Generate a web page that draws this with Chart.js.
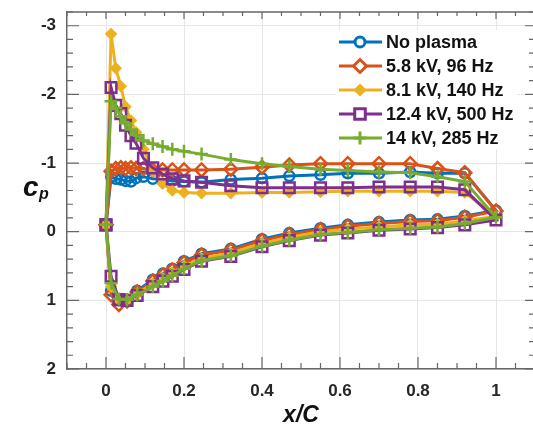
<!DOCTYPE html>
<html>
<head>
<meta charset="utf-8">
<script src="https://cdn.jsdelivr.net/npm/chart.js@4/dist/chart.umd.min.js"></script>
<style>
html,body{margin:0;padding:0;overflow:hidden;background:#fff}
#caja{width:548px;height:434px}
</style>
</head>
<body>
<div id="caja"><canvas id="cp" width="548" height="434"></canvas></div>
<script>
// posiciones de las tomas (extrados con borde de ataque y de fuga, intrados sin ellos)
var xSup = [0, 0.013, 0.025, 0.038, 0.05, 0.064, 0.077, 0.096, 0.12, 0.145, 0.17, 0.2, 0.245, 0.32, 0.4, 0.47, 0.55, 0.62, 0.70, 0.78, 0.85, 0.92, 1.0];
var xInf = [0.013, 0.033, 0.054, 0.08, 0.12, 0.146, 0.17, 0.2, 0.245, 0.32, 0.4, 0.47, 0.55, 0.62, 0.70, 0.78, 0.85, 0.92];

var etiquetas = ['No plasma', '5.8 kV, 96 Hz', '8.1 kV, 140 Hz', '12.4 kV, 500 Hz', '14 kV, 285 Hz'];
var colores = ['#0072BD', '#D95319', '#EDB120', '#7E2F8E', '#77AC30'];
var marcadores = ['circle', 'rectRot', 'rectRot', 'rect', 'cross'];

var ticksX = [0, 0.2, 0.4, 0.6, 0.8, 1];
var ticksY = [-3, -2, -1, 0, 1, 2];

// Cp extrados
var supSinPlasma = [-0.1, -0.8, -0.77, -0.76, -0.74, -0.73, -0.78, -0.8, -0.77, -0.76, -0.74, -0.73, -0.72, -0.76, -0.78, -0.81, -0.83, -0.85, -0.85, -0.87, -0.85, -0.85, -0.31];
var sup58 = [-0.1, -0.88, -0.92, -0.93, -0.92, -0.93, -0.92, -0.92, -0.9, -0.9, -0.9, -0.9, -0.9, -0.91, -0.94, -0.97, -0.99, -0.99, -0.99, -0.99, -0.92, -0.86, -0.3];
var sup81 = [-0.1, -2.88, -2.38, -2.12, -1.82, -1.62, -1.45, -1.2, -0.88, -0.7, -0.6, -0.57, -0.56, -0.56, -0.57, -0.57, -0.58, -0.59, -0.59, -0.59, -0.59, -0.57, -0.22];
var sup124 = [-0.1, -2.1, -1.84, -1.72, -1.55, -1.4, -1.29, -1.07, -0.93, -0.84, -0.77, -0.74, -0.72, -0.67, -0.64, -0.64, -0.64, -0.64, -0.65, -0.65, -0.65, -0.61, -0.17];
var sup14 = [-0.1, -1.9, -1.8, -1.68, -1.58, -1.49, -1.41, -1.33, -1.28, -1.24, -1.2, -1.17, -1.13, -1.05, -0.99, -0.95, -0.91, -0.89, -0.87, -0.86, -0.8, -0.73, -0.21];

// Cp intrados
var infSinPlasma = [0.86, 1.0, 0.99, 0.86, 0.70, 0.61, 0.54, 0.43, 0.32, 0.25, 0.11, 0.02, -0.05, -0.1, -0.14, -0.17, -0.18, -0.23];
var inf58 = [0.92, 1.06, 1.01, 0.88, 0.72, 0.63, 0.56, 0.45, 0.34, 0.27, 0.13, 0.04, -0.03, -0.08, -0.12, -0.15, -0.16, -0.21];
var inf81 = [0.8, 1.0, 1.0, 0.9, 0.76, 0.68, 0.6, 0.5, 0.39, 0.31, 0.17, 0.08, 0.0, -0.04, -0.07, -0.1, -0.11, -0.16];
var inf124 = [0.65, 0.99, 1.0, 0.93, 0.8, 0.72, 0.65, 0.55, 0.43, 0.36, 0.22, 0.13, 0.05, 0.02, -0.02, -0.04, -0.06, -0.1];
var inf14 = [0.75, 0.98, 0.99, 0.92, 0.8, 0.72, 0.64, 0.54, 0.42, 0.35, 0.21, 0.12, 0.04, 0.01, -0.03, -0.05, -0.07, -0.12];

var supTodos = [supSinPlasma, sup58, sup81, sup124, sup14];
var infTodos = [infSinPlasma, inf58, inf81, inf124, inf14];

function contorno(sup, inf){
  var pts = [];
  for (var i = 0; i < xSup.length; i++) pts.push({x: xSup[i], y: sup[i]});
  for (var j = xInf.length - 1; j >= 0; j--) pts.push({x: xInf[j], y: inf[j]});
  pts.push({x: xSup[0], y: sup[0]});
  return pts;
}

function radioMarcador(k){
  if (k == 2) return 4.5;
  if (marcadores[k] == 'rect') return 7.5;
  if (marcadores[k] == 'rectRot') return 6.5;
  if (marcadores[k] == 'cross') return 6.5;
  return 5;
}

var datasets = [];
for (var k = 0; k < etiquetas.length; k++) {
  datasets.push({
    label: etiquetas[k],
    data: contorno(supTodos[k], infTodos[k]),
    showLine: true,
    borderColor: colores[k],
    borderWidth: 3,
    pointStyle: marcadores[k],
    pointRadius: radioMarcador(k),
    pointBorderWidth: 2.5,
    pointBorderColor: colores[k],
    pointBackgroundColor: k == 2 ? colores[k] : 'rgba(255,255,255,0)',
    tension: 0,
    order: etiquetas.length - k
  });
}

var fuenteTicks = {family: 'Liberation Sans, Arial, sans-serif', size: 17, weight: 'bold'};

function marcador(ctx, k, x, y){
  Chart.helpers.drawPoint(ctx, {
    pointStyle: marcadores[k],
    radius: radioMarcador(k),
    borderWidth: 2.5,
    rotation: 0
  }, x, y);
}

var extras = {
  id: 'extras',
  afterDraw: function(chart){
    var ctx = chart.ctx;
    var a = chart.chartArea;
    var sx = chart.scales.x, sy = chart.scales.y;
    ctx.save();
    // borde superior
    ctx.strokeStyle = '#666';
    ctx.lineWidth = 1.5;
    ctx.beginPath();
    ctx.moveTo(a.left, a.top); ctx.lineTo(a.right, a.top);
    ctx.moveTo(a.right, a.top); ctx.lineTo(a.right, a.bottom);
    ctx.stroke();
    // marcas hacia dentro
    ctx.lineWidth = 1.2;
    ctx.beginPath();
    for (var i = -2; i <= 22; i++) {
      var v = i * 0.05;
      var px = sx.getPixelForValue(v);
      var mayor = (i % 4 == 0);
      ctx.moveTo(px, a.bottom); ctx.lineTo(px, a.bottom - (mayor ? 12 : 6));
      ctx.moveTo(px, a.top); ctx.lineTo(px, a.top + (mayor ? 7 : 4));
    }
    for (var j = -16; j <= 10; j++) {
      var w = j * 0.2;
      var py = sy.getPixelForValue(w);
      var may = (j % 5 == 0);
      ctx.moveTo(a.left, py); ctx.lineTo(a.left + (may ? 12 : 6), py);
      ctx.moveTo(a.right, py); ctx.lineTo(a.right - (may ? 10 : 6), py);
    }
    ctx.stroke();

    // leyenda
    ctx.fillStyle = '#fff';
    ctx.fillRect(336, 30, 181, 120);
    for (var k = 0; k < etiquetas.length; k++) {
      var yy = 42 + k * 24;
      ctx.strokeStyle = colores[k];
      ctx.lineWidth = 3;
      ctx.beginPath(); ctx.moveTo(339, yy); ctx.lineTo(382, yy); ctx.stroke();
      ctx.fillStyle = k == 2 ? colores[k] : '#fff';
      marcador(ctx, k, 360, yy);
      ctx.fillStyle = '#111';
      ctx.font = 'bold 18px Liberation Sans, Arial, sans-serif';
      ctx.textBaseline = 'middle';
      ctx.textAlign = 'left';
      ctx.fillText(etiquetas[k], 386, yy + 1);
    }

    // titulo eje y: c sub p
    ctx.fillStyle = '#111';
    ctx.textBaseline = 'alphabetic';
    ctx.font = 'italic bold 28px Liberation Sans, Arial, sans-serif';
    ctx.fillText('c', 23, 196);
    ctx.font = 'italic bold 16px Liberation Sans, Arial, sans-serif';
    ctx.fillText('p', 39, 199);
    ctx.restore();
  }
};

new Chart(document.getElementById('cp'), {
  type: 'scatter',
  data: {datasets: datasets},
  options: {
    responsive: false,
    animation: false,
    layout: {padding: {top: 12, right: 13, left: 0, bottom: 0}},
    plugins: {legend: {display: false}, tooltip: {enabled: false}},
    scales: {
      x: {
        type: 'linear', min: -0.1, max: 1.1,
        afterBuildTicks: function(s){ s.ticks = ticksX.map(function(v){ return {value: v}; }); },
        afterFit: function(s){ s.height = 65; s.paddingLeft = 0; s.paddingRight = 0; },
        ticks: {font: fuenteTicks, color: '#262626', padding: 12, maxRotation: 0,
          callback: function(v){ return String(v); }},
        grid: {color: '#e6e6e6', lineWidth: 1, drawTicks: false},
        border: {display: true, color: '#666', width: 1.5},
        title: {display: true, text: 'x/C', color: '#111',
          font: {family: 'Liberation Sans, Arial, sans-serif', size: 23, weight: 'bold', style: 'italic'},
          padding: {top: 0, bottom: 5}}
      },
      y: {
        type: 'linear', reverse: true, min: -3.2, max: 2,
        afterBuildTicks: function(s){ s.ticks = ticksY.map(function(v){ return {value: v}; }); },
        afterFit: function(s){ s.width = 67; s.paddingTop = 0; s.paddingBottom = 0; },
        ticks: {font: fuenteTicks, color: '#262626', padding: 11,
          callback: function(v){ return String(v); }},
        grid: {color: '#e6e6e6', lineWidth: 1, drawTicks: false},
        border: {display: true, color: '#666', width: 1.5}
      }
    }
  },
  plugins: [extras]
});
</script>
</body>
</html>
